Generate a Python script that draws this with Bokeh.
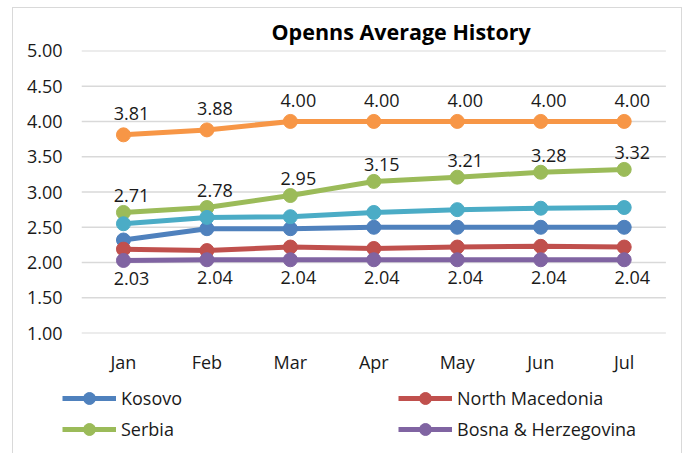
from bokeh.plotting import figure
from bokeh.layouts import column
from bokeh.models import (ColumnDataSource, Range1d, FixedTicker,
                          NumeralTickFormatter, Legend, LegendItem, Title)
from bokeh.core.properties import value
from bokeh.embed import file_html
from bokeh.resources import INLINE

# ---- data ----
months = ["Jan", "Feb", "Mar", "Apr", "May", "Jun", "Jul"]
kosovo = [2.32, 2.48, 2.48, 2.50, 2.50, 2.50, 2.50]
north_macedonia = [2.19, 2.17, 2.22, 2.20, 2.22, 2.23, 2.22]
serbia = [2.71, 2.78, 2.95, 3.15, 3.21, 3.28, 3.32]
bosnia = [2.03, 2.04, 2.04, 2.04, 2.04, 2.04, 2.04]
series_teal = [2.55, 2.64, 2.65, 2.71, 2.75, 2.77, 2.78]
series_orange = [3.81, 3.88, 4.00, 4.00, 4.00, 4.00, 4.00]
y_ticks = [1.0, 1.5, 2.0, 2.5, 3.0, 3.5, 4.0, 4.5, 5.0]
title_text = "Openns Average History"
legend_names = ["Kosovo", "North Macedonia", "Serbia", "Bosna & Herzegovina"]

FONT = "Open Sans"
GRID = "#d9d9d9"
TXT = "#1a1a1a"

xpos = list(range(len(months)))

p = figure(x_range=Range1d(-0.7305, 6.507), y_range=Range1d(0.995, 5.005),
           width=668, height=372, output_backend="svg", toolbar_location=None,
           min_border_left=49, min_border_right=15, min_border_top=42,
           min_border_bottom=47, title=None)
p.outline_line_color = None
p.background_fill_color = "white"
p.border_fill_color = "white"

p.xgrid.grid_line_color = None
p.ygrid.grid_line_color = None
# horizontal gridlines spanning the category bands only
p.segment(x0=[xpos[0] - 0.5] * len(y_ticks), x1=[xpos[-1] + 0.5] * len(y_ticks),
          y0=y_ticks, y1=y_ticks, line_color=GRID, line_width=1.5)

p.yaxis.ticker = FixedTicker(ticks=y_ticks)
p.yaxis.formatter = NumeralTickFormatter(format="0.00")
p.xaxis.ticker = FixedTicker(ticks=xpos)
p.xaxis.major_label_overrides = {i: m for i, m in zip(xpos, months)}
for ax in (p.xaxis[0], p.yaxis[0]):
    ax.axis_line_color = None
    ax.major_tick_line_color = None
    ax.minor_tick_line_color = None
    ax.major_tick_out = 0
    ax.major_tick_in = 0
    ax.major_label_text_font = FONT
    ax.major_label_text_font_size = "18px"
    ax.major_label_text_color = TXT
p.yaxis.major_label_standoff = 0
p.xaxis.major_label_standoff = 16

series = [
    ("Kosovo", kosovo, "#4F81BD"),
    ("North Macedonia", north_macedonia, "#C0504D"),
    ("Serbia", serbia, "#9BBB59"),
    ("Bosna & Herzegovina", bosnia, "#8064A2"),
    ("Series 5", series_teal, "#4BACC6"),
    ("Series 6", series_orange, "#F79646"),
]
colors = {n: c for n, _, c in series}

renderers = {}
for name, vals, color in series:
    src = ColumnDataSource(dict(x=xpos, y=vals, t=[f"{v:.2f}" for v in vals]))
    l = p.line("x", "y", source=src, line_color=color, line_width=5)
    s = p.scatter("x", "y", source=src, size=14, fill_color=color, line_color=color)
    renderers[name] = (l, s, src)

# data labels
label_cfg = [("Series 6", -21), ("Serbia", -17), ("Bosna & Herzegovina", 18)]
for name, yoff in label_cfg:
    src = renderers[name][2]
    p.text("x", "y", text="t", source=src, x_offset=8, y_offset=yoff,
           text_align="center", text_baseline="middle",
           text_font=value(FONT), text_font_size="18px", text_color=TXT)

p.add_layout(Title(text=title_text, align="left", offset=209, standoff=9,
                   text_font=FONT, text_font_size="21.5px", text_font_style="bold",
                   text_color="black"), "above")

# ---- legend strip below the chart ----
leg = figure(x_range=Range1d(0, 1), y_range=Range1d(0, 1), width=668, height=73,
             output_backend="svg", toolbar_location=None, min_border=0,
             x_axis_type=None, y_axis_type=None)
leg.outline_line_color = None
leg.xgrid.grid_line_color = None
leg.ygrid.grid_line_color = None
nan = float("nan")
items = []
for n in legend_names:
    c = colors[n]
    lr = leg.line(x=[nan, nan], y=[nan, nan], line_color=c, line_width=5)
    sr = leg.scatter(x=[nan], y=[nan], size=14, fill_color=c, line_color=c)
    items.append(LegendItem(label=n, renderers=[lr, sr]))
legend = Legend(items=items, orientation="horizontal", ncols=2, location=(0, 9),
                glyph_width=54, glyph_height=30, label_width=276, label_height=20,
                label_standoff=5, spacing=1, padding=0, margin=0,
                border_line_color=None, background_fill_alpha=0,
                label_text_font=FONT, label_text_font_size="18px",
                label_text_color=TXT)
leg.add_layout(legend)

layout = column(p, leg, spacing=0,
                styles={"margin-left": "12px", "margin-top": "7px",
                        "border-top": "1px solid #d9d9d9",
                        "border-left": "1px solid #d9d9d9",
                        "border-right": "1px solid #d9d9d9"})

open("out.html", "w").write(file_html(layout, INLINE))
